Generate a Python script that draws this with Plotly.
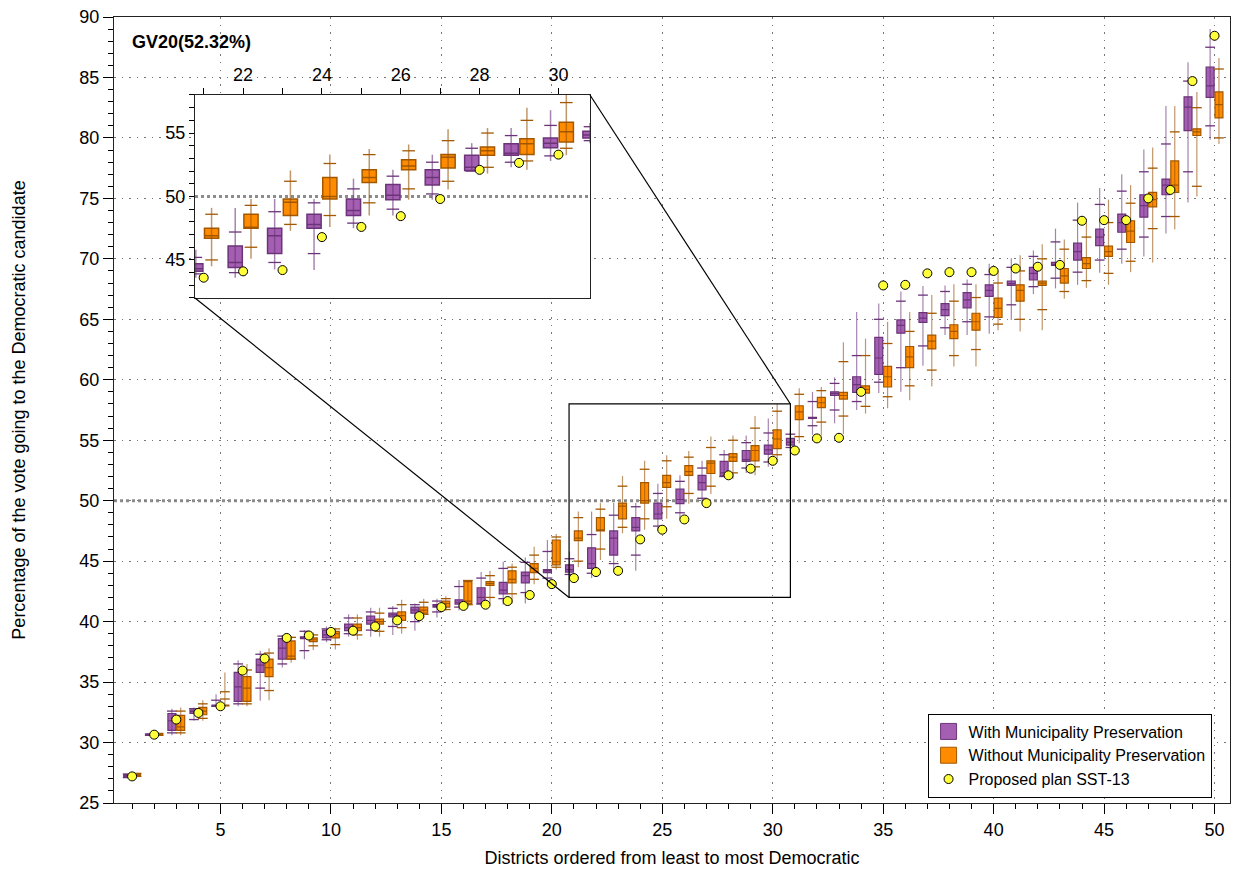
import numpy as np
import plotly.graph_objects as go

# ---------------- data ----------------
districts = list(range(1, 51))

# With Municipality Preservation (purple)
with_lo = [27.10, 30.55, 30.60, 31.80, 32.95, 33.00, 33.45, 36.20, 36.90, 38.30,
           38.75, 38.75, 38.90, 39.25, 40.35, 40.95, 41.40, 41.40, 41.50, 43.00,
           43.60, 43.60, 44.25, 44.20, 47.50, 48.50, 49.75, 52.00, 52.30, 52.80,
           54.20, 55.45, 56.40, 57.50, 58.90, 59.00, 61.15, 63.70, 63.70, 63.80,
           64.95, 67.10, 67.55, 67.85, 68.85, 69.60, 70.20, 72.10, 74.65, 79.85]
with_q1 = [27.15, 30.60, 31.00, 32.40, 33.00, 33.40, 35.80, 36.90, 38.60, 38.65,
           39.25, 39.80, 40.40, 40.70, 41.20, 41.45, 41.50, 42.30, 43.20, 44.05,
           44.10, 44.40, 45.50, 47.50, 48.50, 49.75, 50.90, 52.05, 53.25, 53.85,
           54.60, 56.80, 58.70, 58.95, 60.45, 63.85, 64.75, 65.30, 65.95, 66.90,
           67.80, 68.25, 69.45, 69.90, 71.10, 72.20, 73.45, 75.30, 80.60, 83.35]
with_med = [27.25, 30.65, 31.80, 32.55, 33.05, 34.60, 36.40, 37.80, 38.68, 38.90,
            39.50, 40.10, 40.55, 40.95, 41.30, 41.60, 42.00, 42.60, 43.80, 44.20,
            44.30, 44.80, 46.90, 47.80, 48.90, 50.10, 51.50, 52.30, 53.40, 54.20,
            54.85, 56.85, 58.85, 59.60, 61.80, 64.50, 65.10, 65.80, 66.60, 67.40,
            67.95, 68.80, 69.55, 70.60, 71.80, 73.00, 74.40, 76.10, 82.55, 84.30]
with_q3 = [27.35, 30.70, 32.40, 32.70, 33.10, 35.80, 36.90, 38.60, 38.75, 39.30,
           39.80, 40.45, 40.70, 41.20, 41.40, 41.80, 42.80, 43.25, 44.10, 44.30,
           44.70, 46.10, 47.50, 48.60, 49.80, 50.95, 52.10, 53.25, 54.15, 54.60,
           55.15, 56.90, 59.00, 60.25, 63.50, 64.95, 65.55, 66.30, 67.20, 67.85,
           68.15, 69.30, 69.70, 71.30, 72.45, 73.70, 75.30, 76.60, 83.40, 85.85]
with_hi = [27.40, 30.75, 32.80, 32.90, 34.00, 36.80, 37.60, 38.90, 39.30, 39.60,
           40.60, 41.15, 41.30, 41.50, 41.90, 43.45, 44.10, 44.95, 45.30, 46.75,
           45.80, 49.10, 49.80, 49.80, 51.40, 52.10, 53.30, 54.20, 55.40, 56.80,
           55.80, 59.00, 60.20, 65.60, 66.30, 67.30, 67.75, 67.80, 68.30, 69.60,
           70.05, 70.70, 72.50, 74.65, 75.85, 77.00, 79.05, 82.65, 86.25, 89.00]
with_tick_hi = [27.40, 30.70, 32.60, 32.80, 33.50, 36.50, 37.30, 38.80, 39.20, 39.40,
                40.30, 40.80, 41.10, 41.40, 41.70, 42.90, 43.60, 44.40, 44.90, 45.80,
                45.20, 47.20, 48.80, 49.50, 50.60, 51.60, 52.70, 53.80, 54.80, 55.60,
                55.50, 58.20, 59.70, 62.00, 65.00, 66.50, 67.00, 67.30, 67.90, 68.70,
                69.30, 70.20, 71.40, 73.20, 74.50, 75.60, 77.20, 79.50, 84.70, 87.50]
with_tick_lo = [27.10, 30.60, 30.80, 31.90, 33.00, 33.20, 34.50, 36.50, 37.60, 38.50,
                39.00, 39.30, 39.60, 40.00, 40.80, 41.20, 41.45, 41.90, 42.40, 43.60,
                43.90, 44.00, 44.80, 45.50, 47.90, 49.00, 50.20, 52.00, 52.70, 53.20,
                54.40, 56.20, 57.50, 58.20, 59.80, 61.00, 62.80, 64.30, 64.80, 65.20,
                66.20, 67.70, 68.40, 68.90, 69.90, 70.80, 71.80, 73.50, 77.20, 81.00]

# Without Municipality Preservation (orange)
wo_lo = [27.20, 30.60, 30.60, 31.80, 33.00, 33.00, 33.50, 36.60, 37.65, 37.70,
         38.50, 38.75, 39.00, 40.30, 40.90, 41.30, 41.50, 41.50, 43.10, 44.30,
         44.50, 45.10, 47.30, 47.60, 48.50, 49.75, 50.55, 51.80, 52.10, 53.25,
         54.75, 55.40, 55.50, 57.20, 57.65, 58.30, 59.45, 61.10, 61.10, 64.10,
         64.00, 64.10, 66.70, 67.60, 67.85, 68.90, 69.70, 72.45, 75.15, 79.50]
wo_q1 = [27.25, 30.62, 31.00, 32.30, 33.02, 33.40, 35.45, 36.90, 38.35, 38.65,
         39.25, 39.80, 40.10, 40.70, 41.20, 41.50, 43.00, 43.20, 44.05, 44.70,
         46.70, 47.50, 48.50, 49.80, 51.10, 52.10, 52.25, 53.25, 53.30, 54.30,
         56.70, 57.70, 58.40, 58.90, 59.40, 61.00, 62.55, 63.40, 64.10, 65.15,
         66.50, 67.80, 68.00, 69.20, 70.20, 71.35, 74.30, 75.50, 80.20, 81.65]
wo_med = [27.30, 30.67, 31.30, 32.60, 33.05, 34.50, 36.20, 37.15, 38.50, 39.00,
          39.50, 40.00, 40.50, 40.95, 41.50, 41.70, 43.15, 43.50, 44.40, 44.95,
          46.90, 47.55, 49.55, 50.00, 51.50, 52.40, 53.10, 53.60, 54.15, 55.10,
          57.35, 58.10, 58.70, 59.20, 60.25, 61.90, 63.20, 64.00, 64.80, 65.90,
          67.40, 68.00, 68.60, 69.60, 70.60, 72.30, 74.90, 76.10, 80.50, 82.75]
wo_q3 = [27.40, 30.72, 32.25, 32.90, 33.10, 35.45, 36.90, 38.40, 38.65, 39.20,
         39.80, 40.20, 40.80, 41.20, 41.70, 43.30, 43.30, 44.20, 44.80, 46.75,
         47.50, 48.60, 49.80, 51.50, 52.10, 52.90, 53.30, 53.90, 54.55, 55.85,
         57.85, 58.55, 58.95, 59.50, 61.10, 62.75, 63.70, 64.55, 65.50, 66.75,
         67.85, 68.15, 69.20, 70.10, 71.05, 73.15, 75.50, 78.10, 80.75, 83.80]
wo_hi = [27.45, 30.80, 32.90, 33.50, 35.80, 36.50, 37.80, 38.80, 39.10, 39.50,
         40.60, 41.15, 41.80, 41.90, 42.10, 43.45, 44.20, 44.80, 46.20, 47.25,
         49.10, 49.80, 52.05, 53.30, 53.75, 54.10, 55.30, 55.40, 57.00, 58.00,
         59.30, 59.40, 63.10, 63.40, 64.80, 65.60, 67.00, 67.90, 67.90, 69.00,
         70.30, 71.20, 71.60, 73.00, 74.90, 76.10, 79.20, 82.65, 83.80, 86.60]
wo_tick_hi = [27.45, 30.75, 32.60, 33.20, 34.20, 36.00, 37.40, 38.70, 38.90, 39.40,
              40.30, 40.70, 41.40, 41.60, 41.90, 43.40, 43.80, 44.50, 45.50, 47.00,
              48.60, 49.30, 51.20, 52.60, 53.30, 53.60, 54.40, 55.00, 56.00, 57.40,
              58.80, 59.10, 61.50, 62.00, 63.00, 64.00, 65.50, 66.50, 66.80, 68.00,
              69.00, 70.00, 70.80, 71.80, 73.00, 74.60, 77.50, 80.50, 82.50, 85.70]
wo_tick_lo = [27.20, 30.60, 30.80, 32.00, 33.60, 33.20, 34.30, 36.90, 38.00, 38.10,
              38.90, 39.20, 39.50, 40.60, 41.00, 41.40, 42.00, 42.30, 43.50, 44.50,
              45.00, 46.00, 47.80, 48.50, 49.50, 50.60, 51.20, 52.30, 52.80, 53.80,
              55.30, 56.50, 57.00, 57.80, 58.60, 59.50, 60.80, 62.00, 62.50, 64.60,
              65.00, 65.80, 67.30, 68.20, 68.80, 69.80, 72.50, 73.50, 76.00, 80.00]

# Proposed plan SST-13
plan = [27.20, 30.65, 31.90, 32.45, 33.00, 35.95, 36.95, 38.65, 38.85, 39.15,
        39.25, 39.60, 40.10, 40.45, 41.20, 41.30, 41.40, 41.70, 42.20, 43.10,
        43.60, 44.10, 44.20, 46.80, 47.60, 48.45, 49.80, 52.10, 52.65, 53.30,
        54.15, 55.15, 55.20, 59.00, 67.80, 67.85, 68.80, 68.90, 68.90, 69.00,
        69.20, 69.35, 69.50, 73.15, 73.20, 73.20, 75.00, 75.70, 84.70, 88.45]

main_title = "GV20(52.32%)"
x_title = "Districts ordered from least to most Democratic"
y_title = "Percentage of the vote going to the Democratic candidate"
legend_names = ["With Municipality Preservation",
                "Without Municipality Preservation",
                "Proposed plan SST-13"]

# ---------------- styles ----------------
FONT = "Liberation Sans, Arial, Helvetica, sans-serif"
OFF = 0.2
BOXW = 0.36
P_FILL, P_LINE, P_WHISK = "#A55FB2", "#6B3479", "rgba(107,52,121,0.6)"
O_FILL, O_LINE, O_WHISK = "#FF8C00", "#A35800", "rgba(150,82,8,0.6)"
PT_FILL = "#FFFF3A"
GRID_DASH = "1.5px,6px"

XR = [0.18, 50.7]
YR = [25, 90]
IXR = [20.78, 30.8]
IYR = [42, 58]
IN_XD = [0.0726, 0.4265]
IN_YD = [0.6425, 0.9008]

fig = go.Figure()

# legend-only entries
fig.add_trace(go.Scatter(x=[None], y=[None], mode="markers", name=legend_names[0],
                         marker=dict(symbol="square", size=16, color=P_FILL,
                                     line=dict(color=P_LINE, width=1))))
fig.add_trace(go.Scatter(x=[None], y=[None], mode="markers", name=legend_names[1],
                         marker=dict(symbol="square", size=16, color=O_FILL,
                                     line=dict(color=O_LINE, width=1))))


def add_series(lo, q1, med, q3, hi, tlo, thi, side, fill, line, whisk,
               xa, ya, tsize, lw):
    xs = np.array(districts, dtype=float) + side * OFF
    wx, wy = [], []
    for x, a, b in zip(xs, lo, hi):
        wx += [x, x, None]
        wy += [a, b, None]
    fig.add_trace(go.Scatter(x=wx, y=wy, mode="lines", xaxis=xa, yaxis=ya,
                             line=dict(color=whisk, width=lw),
                             showlegend=False, hoverinfo="skip"))
    fig.add_trace(go.Scatter(x=np.concatenate([xs, xs]), y=list(tlo) + list(thi),
                             mode="markers", xaxis=xa, yaxis=ya,
                             marker=dict(symbol="line-ew", size=tsize,
                                         line=dict(color=line, width=1.3)),
                             showlegend=False, hoverinfo="skip"))
    fig.add_trace(go.Box(x=xs, q1=q1, median=med, q3=q3,
                         lowerfence=q1, upperfence=q3,
                         width=BOXW, whiskerwidth=0,
                         fillcolor=fill, line=dict(color=line, width=lw),
                         xaxis=xa, yaxis=ya, showlegend=False,
                         boxpoints=False, hoverinfo="skip"))


for xa, ya, tsize, lw in [("x", "y", 7, 1.2), ("x2", "y2", 9, 1.5)]:
    add_series(with_lo, with_q1, with_med, with_q3, with_hi, with_tick_lo, with_tick_hi,
               -1, P_FILL, P_LINE, P_WHISK, xa, ya, tsize, lw)
    add_series(wo_lo, wo_q1, wo_med, wo_q3, wo_hi, wo_tick_lo, wo_tick_hi,
               1, O_FILL, O_LINE, O_WHISK, xa, ya, tsize, lw)
    fig.add_trace(go.Scatter(x=districts, y=plan, mode="markers", xaxis=xa, yaxis=ya,
                             name=legend_names[2], showlegend=(xa == "x"),
                             marker=dict(symbol="circle", size=9, color=PT_FILL,
                                         line=dict(color="black", width=1))))

axis_common = dict(ticks="outside", tickcolor="black", tickwidth=1,
                   showline=True, linecolor="#222", linewidth=1.3, mirror=True,
                   zeroline=False, tickfont=dict(size=18, color="black"))

fig.update_layout(
    width=1233, height=869,
    margin=dict(l=114, r=3, t=17, b=66),
    paper_bgcolor="white", plot_bgcolor="white",
    font=dict(family=FONT, size=18, color="black"),
    boxmode="overlay",
    xaxis=dict(range=XR, tickmode="linear", tick0=0, dtick=5, ticklen=10,
               showgrid=True, gridcolor="#777", griddash=GRID_DASH, gridwidth=1,
               minor=dict(dtick=1, tick0=0, ticklen=5, ticks="outside",
                          tickcolor="black", showgrid=False),
               title=dict(text=x_title, standoff=12, font=dict(size=18)),
               automargin=False, **axis_common),
    yaxis=dict(range=YR, tickmode="linear", tick0=0, dtick=5, ticklen=10,
               showgrid=True, gridcolor="#777", griddash=GRID_DASH, gridwidth=1,
               minor=dict(dtick=1, tick0=0, ticklen=5, ticks="outside",
                          tickcolor="black", showgrid=False),
               title=dict(text=y_title, standoff=48, font=dict(size=18)),
               automargin=False, **axis_common),
    xaxis2=dict(domain=IN_XD, anchor="y2", side="top", range=IXR,
                tickmode="linear", tick0=0, dtick=2, ticklen=6, showgrid=False,
                minor=dict(dtick=1, tick0=0, ticklen=6, ticks="outside",
                           tickcolor="black", showgrid=False),
                **axis_common),
    yaxis2=dict(domain=IN_YD, anchor="x2", range=IYR,
                tickmode="linear", tick0=0, dtick=5, ticklen=5, showgrid=False,
                minor=dict(dtick=1, tick0=0, ticklen=5, ticks="outside",
                           tickcolor="black", showgrid=False),
                **axis_common),
    legend=dict(x=0.729, y=0.0604, xanchor="left", yanchor="middle",
                bgcolor="white", bordercolor="black", borderwidth=1,
                font=dict(size=16, family=FONT), tracegroupgap=0,
                itemsizing="trace"),
    showlegend=True,
)


def px(v):
    return (v - XR[0]) / (XR[1] - XR[0])


def py(v):
    return (v - YR[0]) / (YR[1] - YR[0])


shapes = [
    dict(type="line", xref="x", yref="y", x0=XR[0], x1=XR[1], y0=50, y1=50,
         line=dict(color="#8c8c8c", width=3, dash="3px,3px"), layer="below"),
    dict(type="line", xref="x2", yref="y2", x0=IXR[0], x1=IXR[1], y0=50, y1=50,
         line=dict(color="#8c8c8c", width=3, dash="3px,3px"), layer="below"),
    dict(type="rect", xref="x", yref="y", x0=IXR[0], x1=IXR[1], y0=IYR[0], y1=IYR[1],
         line=dict(color="black", width=1.2), layer="above"),
    dict(type="line", xref="paper", yref="paper", x0=IN_XD[0], y0=IN_YD[0],
         x1=px(IXR[0]), y1=py(IYR[0]), line=dict(color="black", width=1.2)),
    dict(type="line", xref="paper", yref="paper", x0=IN_XD[1], y0=IN_YD[1],
         x1=px(IXR[1]), y1=py(IYR[1]), line=dict(color="black", width=1.2)),
]
fig.update_layout(shapes=shapes)

fig.add_annotation(text="<b>" + main_title + "</b>", xref="paper", yref="paper",
                   x=0.0143, y=0.968, xanchor="left", yanchor="middle",
                   showarrow=False, font=dict(size=18, family=FONT, color="black"))

fig.write_html("out.html")
